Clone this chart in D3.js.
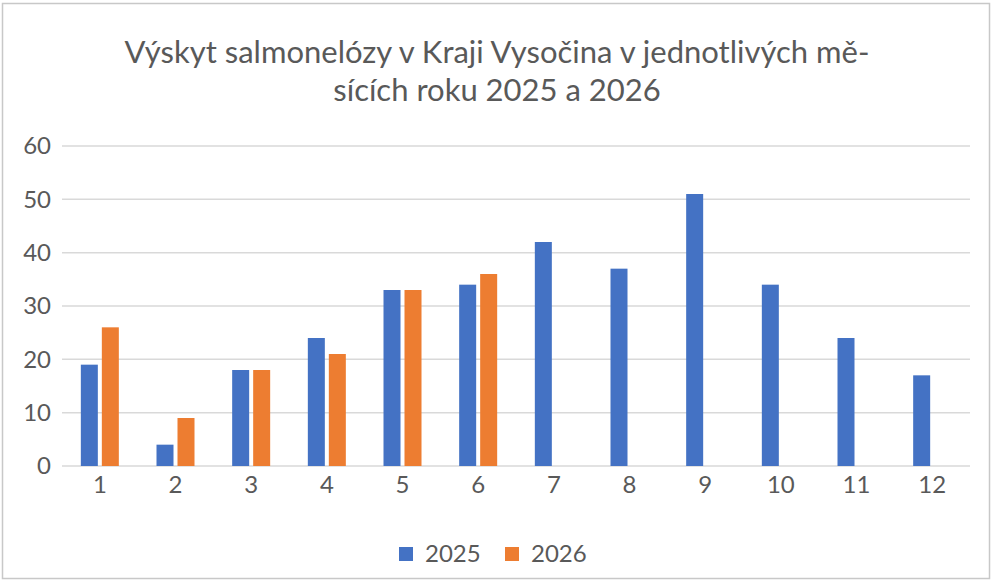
<!DOCTYPE html>
<html>
<head>
<meta charset="utf-8">
<script src="https://cdn.jsdelivr.net/npm/d3@7"></script>
<style>
  body { margin: 0; background: #fff; }
  text { font-family: Lato, "Open Sans", sans-serif; fill: #595959; }
</style>
</head>
<body>
<script>
// Chart data
var months = ["1", "2", "3", "4", "5", "6", "7", "8", "9", "10", "11", "12"];
var cases2025 = [19, 4, 18, 24, 33, 34, 42, 37, 51, 34, 24, 17];
var cases2026 = [26, 9, 18, 21, 33, 36, null, null, null, null, null, null];
var seriesNames = ["2025", "2026"];
var seriesColors = ["#4472C4", "#ED7D31"];
var yTicks = [0, 10, 20, 30, 40, 50, 60];
var titleLines = ["Výskyt salmonelózy v Kraji Vysočina v jednotlivých mě-", "sících roku 2025 a 2026"];

var svgWidth = 993;
var svgHeight = 585;
var margin = { top: 146, right: 23, bottom: 119, left: 62 };
var width = svgWidth - margin.left - margin.right;
var height = svgHeight - margin.top - margin.bottom;

var svg = d3.select("body")
  .append("svg")
  .attr("width", svgWidth)
  .attr("height", svgHeight);

// chart border
svg.append("rect")
  .attr("x", 2.5)
  .attr("y", 3.5)
  .attr("width", 987)
  .attr("height", 575)
  .attr("fill", "#fff")
  .attr("stroke", "#c8c8c8")
  .attr("stroke-width", 1.5);

// title
svg.append("text")
  .attr("text-anchor", "middle")
  .attr("font-size", "31px")
  .selectAll("tspan")
  .data(titleLines)
  .enter()
  .append("tspan")
  .attr("x", 497)
  .attr("y", (d, i) => 63 + i * 38)
  .text(d => d);

var chartGroup = svg.append("g")
  .attr("transform", `translate(${margin.left}, ${margin.top})`);

var xScale = d3.scaleBand()
  .domain(months)
  .range([0, width]);

var yScale = d3.scaleLinear()
  .domain([0, 60])
  .range([height, 0]);

// gridlines
chartGroup.selectAll(".grid")
  .data(yTicks)
  .enter()
  .append("line")
  .attr("x1", 0)
  .attr("x2", width)
  .attr("y1", d => yScale(d))
  .attr("y2", d => yScale(d))
  .attr("stroke", "#d9d9d9")
  .attr("stroke-width", 1.5);

// y axis labels
var leftAxis = d3.axisLeft(yScale).tickValues(yTicks).tickSize(0).tickPadding(11);
var yAxis = chartGroup.append("g").call(leftAxis);
yAxis.select(".domain").remove();
yAxis.selectAll("text").attr("font-size", "24px").attr("fill", "#595959");

// x axis labels
var bottomAxis = d3.axisBottom(xScale).tickSize(0).tickPadding(10);
var xAxis = chartGroup.append("g")
  .attr("transform", `translate(0, ${height})`)
  .call(bottomAxis);
xAxis.select(".domain").remove();
xAxis.selectAll("text").attr("font-size", "24px").attr("fill", "#595959");

// bars
var barW = 17;
var offsets = [-19, 2];
[cases2025, cases2026].forEach(function(values, s) {
  chartGroup.selectAll(".bar" + s)
    .data(months.map((m, i) => ({ m: m, v: values[i] })).filter(d => d.v !== null))
    .enter()
    .append("rect")
    .attr("x", d => xScale(d.m) + xScale.bandwidth() / 2 + offsets[s])
    .attr("y", d => yScale(d.v))
    .attr("width", barW)
    .attr("height", d => height - yScale(d.v))
    .attr("fill", seriesColors[s]);
});

// legend
var legendX = [399, 505];
var legend = svg.selectAll(".legend")
  .data(seriesNames)
  .enter()
  .append("g")
  .attr("transform", (d, i) => `translate(${legendX[i]}, 547)`);

legend.append("rect")
  .attr("width", 14)
  .attr("height", 14)
  .attr("fill", (d, i) => seriesColors[i]);

legend.append("text")
  .attr("x", 26)
  .attr("y", 15)
  .attr("font-size", "24px")
  .text(d => d);
</script>
</body>
</html>
